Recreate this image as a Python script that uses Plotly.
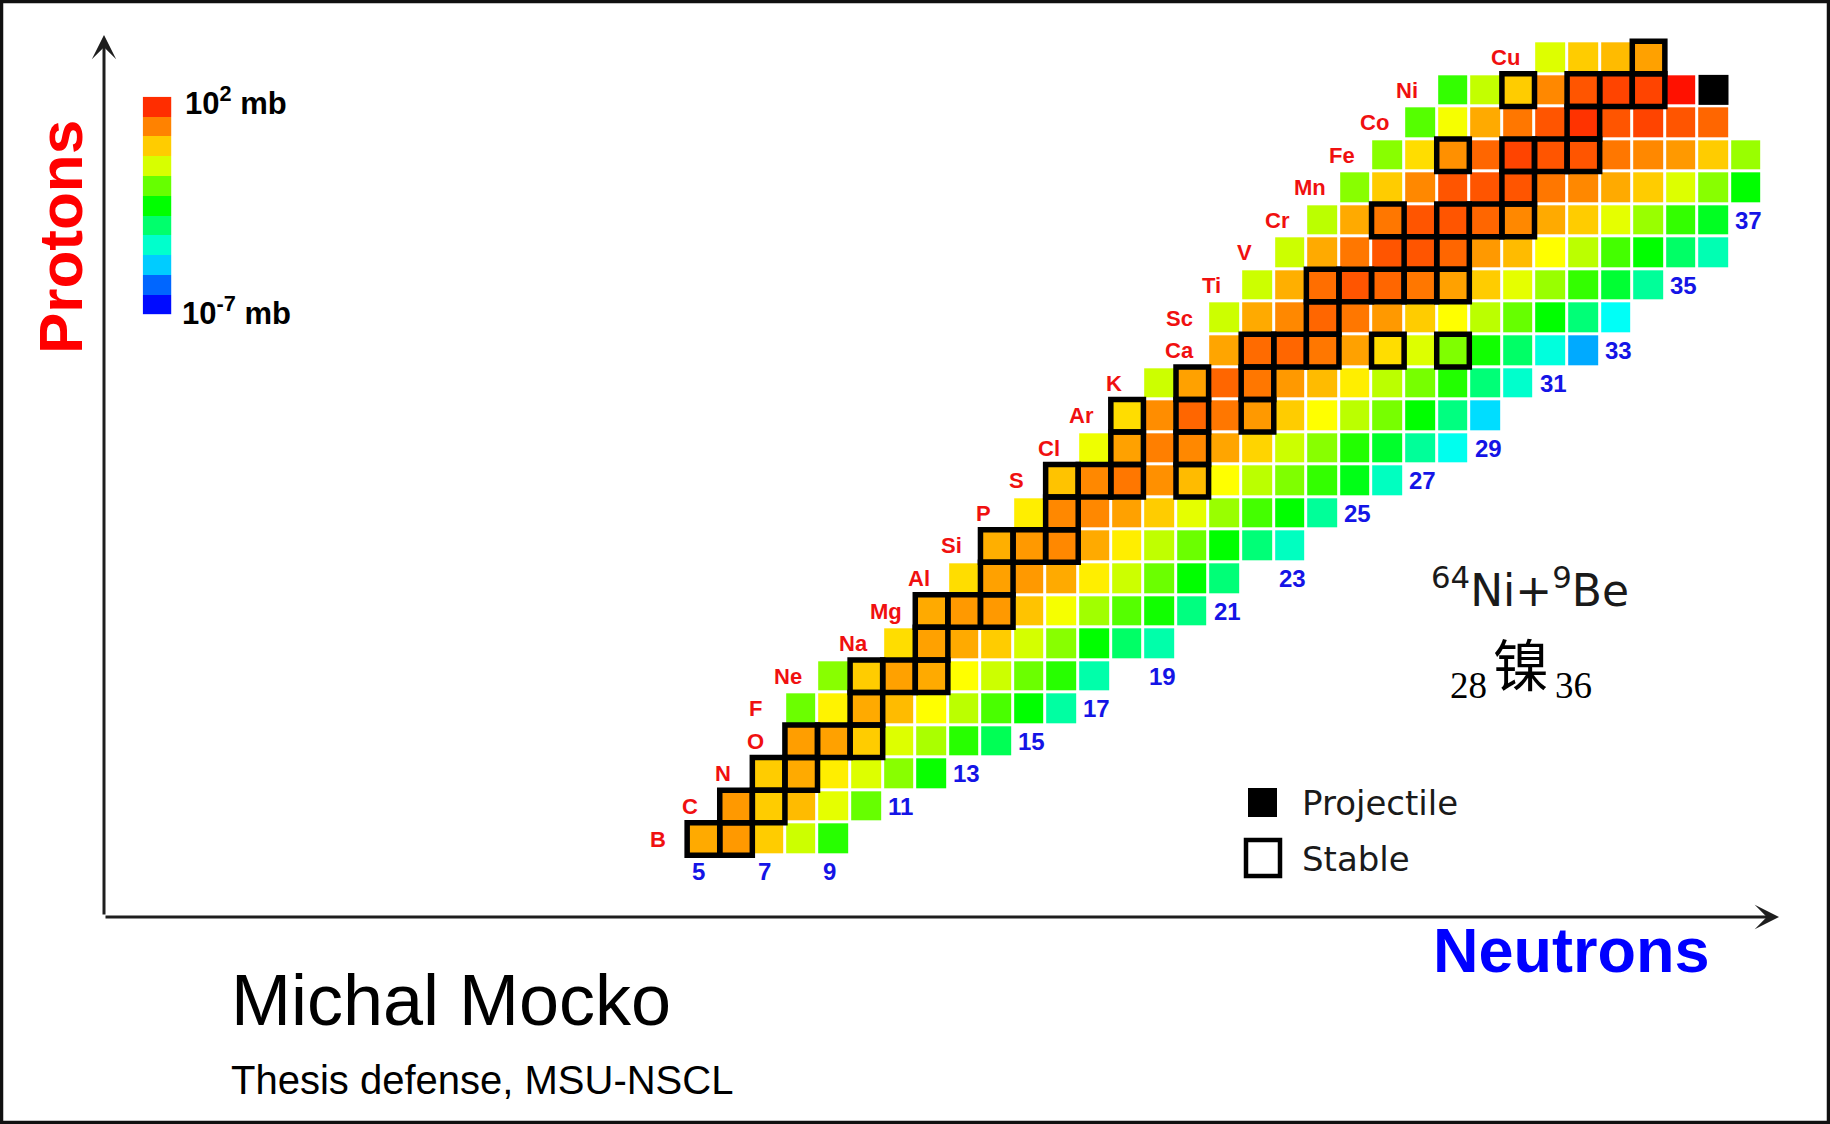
import plotly.graph_objects as go

W, H = 1830, 1124

# ---------------------------------------------------------------- data
elements = ["B", "C", "N", "O", "F", "Ne", "Na", "Mg", "Al", "Si", "P", "S", "Cl",
            "Ar", "K", "Ca", "Sc", "Ti", "V", "Cr", "Mn", "Fe", "Co", "Ni", "Cu"]
proton_numbers = [5, 6, 7, 8, 9, 10, 11, 12, 13, 14, 15, 16, 17,
                  18, 19, 20, 21, 22, 23, 24, 25, 26, 27, 28, 29]
# neutron number of the lightest isotope drawn for each element
first_neutron = [5, 6, 7, 8, 8, 9, 11, 12, 13, 14, 15, 16, 17,
                 18, 19, 21, 21, 22, 23, 24, 25, 26, 27, 28, 31]

# log10(cross section / mb), isotopes in order of increasing neutron number
log_sigma = [
    [0.50, 0.65, 0.20, -0.70, -2.16],                                              # B
    [0.65, 0.20, 0.35, -0.48, -1.60],                                              # C
    [0.20, 0.50, -0.10, -0.55, -1.30, -2.43],                                      # N
    [0.61, 0.58, 0.20, -0.55, -1.00, -2.16, -3.25],                                # O
    [-1.56, -0.14, 0.50, 0.35, -0.25, -0.85, -1.86, -2.50, -3.93],                 # F
    [-1.30, 0.20, 0.58, 0.50, -0.25, -0.70, -1.56, -2.16, -4.00],                  # Ne
    [0.05, 0.58, 0.50, 0.20, -0.63, -1.30, -2.50, -3.40, -4.00],                   # Na
    [0.50, 0.65, 0.65, 0.28, -0.33, -1.08, -1.75, -2.35, -3.63],                   # Mg
    [0.05, 0.58, 0.65, 0.50, -0.10, -0.70, -1.56, -2.50, -3.55],                   # Al
    [0.46, 0.65, 0.80, 0.50, -0.10, -0.81, -1.56, -2.50, -3.55, -4.19],            # Si
    [-0.10, 0.80, 0.80, 0.58, 0.20, -0.48, -1.15, -1.90, -2.50, -3.85],            # P
    [0.28, 0.80, 0.95, 0.73, 0.35, -0.25, -0.85, -1.38, -2.05, -2.69, -4.19],      # S
    [-0.40, 0.58, 0.88, 0.80, 0.54, 0.13, -0.70, -1.30, -2.20, -2.88, -3.85, -4.60],  # Cl
    [0.05, 0.76, 1.10, 0.95, 0.65, 0.20, -0.25, -0.85, -1.45, -2.50, -3.63, -5.05],   # Ar
    [-0.70, 0.58, 1.10, 0.95, 0.65, 0.35, -0.10, -0.85, -1.45, -2.20, -3.55, -4.30],  # K
    [0.54, 1.06, 1.10, 0.95, 0.58, 0.05, -0.55, -1.38, -2.35, -3.40, -4.45, -5.50],   # Ca
    [-0.70, 0.50, 0.80, 1.10, 0.95, 0.65, 0.20, -0.25, -0.85, -1.60, -2.50, -3.55, -4.68],  # Sc
    [-0.70, 0.46, 1.03, 1.25, 1.10, 0.95, 0.58, 0.20, -0.48, -1.15, -2.05, -2.95, -3.85],   # Ti
    [-0.70, 0.50, 0.95, 1.25, 1.25, 1.10, 0.65, 0.35, -0.25, -0.85, -1.90, -2.50, -3.40, -4.08],  # V
    [-0.85, 0.50, 0.95, 1.25, 1.25, 1.10, 0.80, 0.50, 0.20, -0.48, -1.15, -2.05, -2.80],   # Cr
    [-1.30, 0.20, 0.80, 1.25, 1.25, 1.25, 0.95, 0.80, 0.50, 0.20, -0.55, -1.30, -2.50],   # Mn
    [-1.30, 0.05, 0.73, 1.10, 1.40, 1.25, 1.25, 0.95, 0.80, 0.65, 0.20, -1.15],           # Fe
    [-1.75, -0.33, 0.50, 0.95, 1.25, 1.55, 1.25, 1.40, 1.25, 1.10],                       # Co
    [-2.05, -0.78, 0.20, 0.80, 1.25, 1.40, 1.40, 1.85],                                   # Ni
    [-0.55, 0.20, 0.35, 0.58],                                                            # Cu
]

# neutron numbers of the stable isotopes of each element
stable_neutrons = [
    [5, 6], [6, 7], [7, 8], [8, 9, 10], [10], [10, 11, 12], [12], [12, 13, 14],
    [14], [14, 15, 16], [16], [16, 17, 18, 20], [18, 20], [18, 20, 22], [20, 22],
    [22, 23, 24, 26, 28], [24], [24, 25, 26, 27, 28], [27, 28], [26, 28, 29, 30],
    [30], [28, 30, 31, 32], [32], [30, 32, 33, 34], [34],
]

projectile_N, projectile_Z = 36, 28     # 64Ni beam

# neutron-number labels and the proton row they sit in
neutron_label_values = [5, 7, 9, 11, 13, 15, 17, 19, 21, 23, 25, 27, 29, 31, 33, 35, 37]
neutron_label_rows = [4, 4, 4, 6, 7, 8, 9, 10, 12, 13, 15, 16, 17, 19, 20, 22, 24]

# colour key bands, top (10^2 mb) to bottom (10^-7 mb)
key_levels = [1.60, 0.85, 0.20, -0.60, -1.60, -2.50, -3.45, -4.30, -5.20, -6.10, -6.90]
SIGMA_MIN, SIGMA_MAX = -7.0, 2.0

# ---------------------------------------------------------------- styling
rainbow = [[0.0, "#0000ff"], [0.25, "#00ffff"], [0.5, "#00ff00"],
           [0.75, "#ffff00"], [1.0, "#ff0000"]]
RED = "#f01010"
BLUE = "#1414e6"


def px(x):
    return x / W


def py(y):
    return 1 - y / H


# ---------------------------------------------------------------- grid
n_min = min(first_neutron)
n_max = max(f + len(v) - 1 for f, v in zip(first_neutron, log_sigma))
neutrons = list(range(n_min, n_max + 1))
grid = [[None] * len(neutrons) for _ in proton_numbers]
for row, (f, vals) in enumerate(zip(first_neutron, log_sigma)):
    for k, v in enumerate(vals):
        grid[row][f + k - n_min] = v

fig = go.Figure()

fig.add_trace(go.Heatmap(
    x=neutrons, y=proton_numbers, z=grid,
    colorscale=rainbow, zmin=SIGMA_MIN, zmax=SIGMA_MAX,
    xgap=3, ygap=3, showscale=False, hoverongaps=False,
))

# projectile cell in black
fig.add_trace(go.Heatmap(
    x0=projectile_N, dx=1, y0=projectile_Z, dy=1, z=[[1]],
    colorscale=[[0, "#000000"], [1, "#000000"]], xgap=3, ygap=3,
    showscale=False,
))

# colour key
fig.add_trace(go.Heatmap(
    x=[0], y=list(range(len(key_levels))), z=[[v] for v in key_levels],
    colorscale=rainbow, zmin=SIGMA_MIN, zmax=SIGMA_MAX,
    showscale=False, xaxis="x2", yaxis="y2", hoverinfo="skip",
))

shapes = []
# thick outlines on stable isotopes
for Z, ns in zip(proton_numbers, stable_neutrons):
    for N in ns:
        shapes.append(dict(type="rect", xref="x", yref="y",
                           x0=N - 0.5, x1=N + 0.5, y0=Z - 0.5, y1=Z + 0.5,
                           line=dict(color="#000000", width=5.5),
                           fillcolor="rgba(0,0,0,0)", layer="above"))

# legend symbols
shapes.append(dict(type="rect", xref="paper", yref="paper",
                   x0=px(1248), x1=px(1277), y0=py(817), y1=py(788),
                   line=dict(width=0), fillcolor="#000000"))
shapes.append(dict(type="rect", xref="paper", yref="paper",
                   x0=px(1246), x1=px(1280), y0=py(876), y1=py(840),
                   line=dict(color="#000000", width=4.5), fillcolor="rgba(0,0,0,0)"))
# outer frame
shapes.append(dict(type="rect", xref="paper", yref="paper",
                   x0=px(1.5), x1=px(W - 1.5), y0=py(H - 1.5), y1=py(1.5),
                   line=dict(color="#111111", width=3.5), fillcolor="rgba(0,0,0,0)"))

annotations = []

# element symbols, just left of each row
for sym, Z, f in zip(elements, proton_numbers, first_neutron):
    annotations.append(dict(x=f - 1.4, y=Z, xref="x", yref="y", text=f"<b>{sym}</b>",
                            showarrow=False, xanchor="center", yanchor="middle",
                            font=dict(family="Liberation Sans", size=22, color=RED)))

# neutron numbers
for N, Z in zip(neutron_label_values, neutron_label_rows):
    annotations.append(dict(x=N - 0.4, y=Z, xref="x", yref="y", text=f"<b>{N}</b>",
                            showarrow=False, xanchor="left", yanchor="middle",
                            font=dict(family="Liberation Sans", size=24, color=BLUE)))

# axis arrows
annotations.append(dict(x=px(104), y=py(35), xref="paper", yref="paper", text="",
                        showarrow=True, ax=0, ay=881, arrowhead=3, arrowsize=1.35,
                        arrowwidth=3, arrowcolor="#1e1e1e"))
annotations.append(dict(x=px(1779), y=py(917), xref="paper", yref="paper", text="",
                        showarrow=True, ax=-1675, ay=0, arrowhead=3, arrowsize=1.35,
                        arrowwidth=3, arrowcolor="#1e1e1e"))

# axis titles
annotations.append(dict(x=px(60), y=py(237), xref="paper", yref="paper",
                        text="<b>Protons</b>", textangle=-90, showarrow=False,
                        xanchor="center", yanchor="middle",
                        font=dict(family="Liberation Sans", size=62, color="#ff0000")))
annotations.append(dict(x=px(1571), y=py(950), xref="paper", yref="paper",
                        text="<b>Neutrons</b>", showarrow=False,
                        xanchor="center", yanchor="middle",
                        font=dict(family="Liberation Sans", size=63, color="#0000ff")))

# colour key labels
annotations.append(dict(x=px(183), y=py(101), xref="paper", yref="paper",
                        text="<b>10<sup>2</sup> mb</b>", showarrow=False,
                        xanchor="left", yanchor="middle",
                        font=dict(family="Liberation Sans", size=31, color="#000000")))
annotations.append(dict(x=px(180), y=py(311), xref="paper", yref="paper",
                        text="<b>10<sup>-7</sup> mb</b>", showarrow=False,
                        xanchor="left", yanchor="middle",
                        font=dict(family="Liberation Sans", size=31, color="#000000")))

# reaction
annotations.append(dict(x=px(1530), y=py(587), xref="paper", yref="paper",
                        text="<sup>64</sup>Ni+<sup>9</sup>Be", showarrow=False,
                        xanchor="center", yanchor="middle",
                        font=dict(family="DejaVu Sans", size=44, color="#1a1a1a")))
annotations.append(dict(x=px(1468), y=py(685), xref="paper", yref="paper",
                        text="28", showarrow=False, xanchor="center", yanchor="middle",
                        font=dict(family="Liberation Serif", size=37, color="#000000")))
annotations.append(dict(x=px(1521), y=py(661), xref="paper", yref="paper",
                        text="镍", showarrow=False, xanchor="center", yanchor="middle",
                        font=dict(family="Noto Sans CJK SC", size=56, color="#000000")))
annotations.append(dict(x=px(1573), y=py(685), xref="paper", yref="paper",
                        text="36", showarrow=False, xanchor="center", yanchor="middle",
                        font=dict(family="Liberation Serif", size=37, color="#000000")))

# legend text
annotations.append(dict(x=px(1300), y=py(803), xref="paper", yref="paper",
                        text="Projectile", showarrow=False, xanchor="left", yanchor="middle",
                        font=dict(family="DejaVu Sans", size=34, color="#1a1a1a")))
annotations.append(dict(x=px(1300), y=py(859), xref="paper", yref="paper",
                        text="Stable", showarrow=False, xanchor="left", yanchor="middle",
                        font=dict(family="DejaVu Sans", size=34, color="#1a1a1a")))

# author and occasion
annotations.append(dict(x=px(229), y=py(1000), xref="paper", yref="paper",
                        text="Michal Mocko", showarrow=False, xanchor="left", yanchor="middle",
                        font=dict(family="Liberation Sans", size=72, color="#000000")))
annotations.append(dict(x=px(229), y=py(1080), xref="paper", yref="paper",
                        text="Thesis defense, MSU-NSCL", showarrow=False,
                        xanchor="left", yanchor="middle",
                        font=dict(family="Liberation Sans", size=40, color="#000000")))

x_lo = -540.5 / 32.59
x_hi = (W - 540.5) / 32.59
y_hi = 1001.8 / 32.56
y_lo = (1001.8 - H) / 32.56

fig.update_layout(
    width=W, height=H,
    margin=dict(l=0, r=0, t=0, b=0, pad=0),
    paper_bgcolor="white", plot_bgcolor="white",
    showlegend=False,
    xaxis=dict(range=[x_lo, x_hi], domain=[0, 1], visible=False, fixedrange=True),
    yaxis=dict(range=[y_lo, y_hi], domain=[0, 1], visible=False, fixedrange=True),
    xaxis2=dict(domain=[px(142.7), px(171.3)], anchor="y2", range=[-0.5, 0.5],
                visible=False, fixedrange=True),
    yaxis2=dict(domain=[py(314.3), py(96.7)], anchor="x2",
                range=[len(key_levels) - 0.5, -0.5], visible=False, fixedrange=True),
    shapes=shapes,
    annotations=annotations,
)

fig.write_html("out.html")
